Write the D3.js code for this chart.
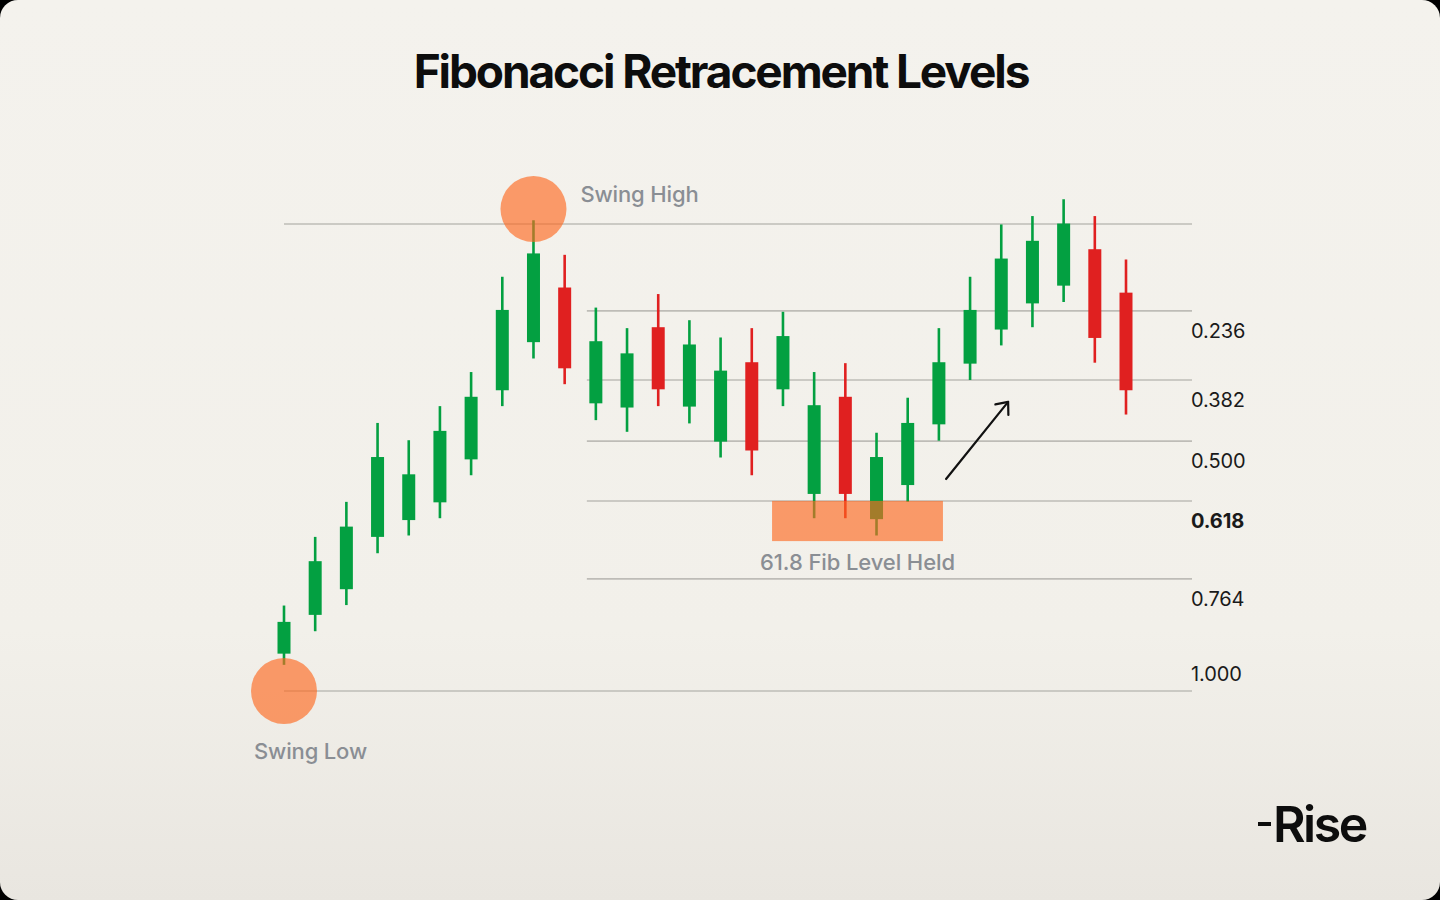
<!DOCTYPE html>
<html>
<head>
<meta charset="utf-8">
<script src="https://cdn.jsdelivr.net/npm/d3@7"></script>
<style>
  html, body { margin: 0; padding: 0; background: #000; }
  svg { display: block; }
</style>
</head>
<body>
<svg id="chart" width="1440" height="900"></svg>
<script>
// ---- Data (price units; swing low = 0, top line = 100) ----
const candleIndex = d3.range(1, 29);
const opens  = [8.0, 16.3, 21.8, 33.0, 36.6, 40.4, 49.6, 64.4, 74.7, 86.4, 61.6, 60.7, 77.9, 60.9, 53.4, 70.4, 64.6, 42.2, 63.0, 36.8, 44.1, 57.1, 70.1, 77.4, 83.0, 86.8, 94.6, 85.3];
const highs  = [18.3, 33.0, 40.5, 57.4, 53.7, 61.0, 68.3, 88.7, 100.8, 93.4, 82.1, 77.7, 85.0, 79.4, 75.7, 77.7, 81.2, 68.3, 70.2, 55.3, 62.8, 77.7, 88.7, 99.9, 101.7, 105.3, 101.7, 92.4];
const lows   = [5.6, 12.8, 18.4, 29.5, 33.3, 37.0, 46.2, 61.0, 71.2, 65.7, 58.0, 55.5, 61.0, 57.3, 50.0, 46.2, 61.0, 37.0, 37.0, 33.3, 40.5, 53.6, 66.6, 74.0, 77.9, 83.3, 70.3, 59.2];
const closes = [14.8, 27.8, 35.2, 50.1, 46.4, 55.7, 63.0, 81.6, 93.7, 69.1, 74.9, 72.3, 64.6, 74.2, 68.6, 51.5, 76.0, 61.2, 42.2, 50.1, 57.4, 70.4, 81.6, 92.6, 96.4, 100.1, 75.6, 64.4];

const fibLabels = ["0", "0.236", "0.382", "0.500", "0.618", "0.764", "1.000"];
const fibPrices = [100, 81.4, 66.6, 53.5, 40.7, 24.0, 0];
const fibStartCandle = [1, 11, 11, 11, 11, 11, 1];

const swingLabels = ["Swing High", "Swing Low"];
const swingCandles = [9, 1];
const swingPrices = [103.2, 0];

const zoneLabel = "61.8 Fib Level Held";
const zoneCandles = [16.65, 22.13];   // candle index span
const zonePrices = [40.7, 32.1];

const arrowFrom = [22.23, 45.4];  // [candle index, price]
const arrowTo   = [24.22, 61.9];

const title = "Fibonacci Retracement Levels";

// ---- Setup ----
const W = 1440, H = 900;
const svg = d3.select("#chart");
const x = d3.scaleLinear().domain([1, 28]).range([284, 1126]);
const y = d3.scaleLinear().domain([0, 100]).range([691, 224]);
const FONT = "Inter, 'Liberation Sans', sans-serif";

const defs = svg.append("defs");
const bgGrad = defs.append("linearGradient").attr("id", "bg").attr("x1", 0).attr("y1", 0).attr("x2", 0).attr("y2", 1);
bgGrad.append("stop").attr("offset", "0%").attr("stop-color", "#F4F2ED");
bgGrad.append("stop").attr("offset", "70%").attr("stop-color", "#F2F0EA");
bgGrad.append("stop").attr("offset", "100%").attr("stop-color", "#E9E6E0");

svg.append("rect").attr("x", 0).attr("y", 0).attr("width", W).attr("height", H)
  .attr("rx", 18).attr("ry", 18).attr("fill", "url(#bg)");

// Title
svg.append("text").attr("x", 721).attr("y", 88)
  .attr("text-anchor", "middle")
  .attr("font-family", FONT)
  .attr("font-weight", 700).attr("font-size", 46)
  .attr("letter-spacing", -2.1)
  .attr("fill", "#0d0d0d")
  .text(title);

// Fib lines
const fib = fibLabels.map((l, i) => ({label: l, price: fibPrices[i], start: fibStartCandle[i]}));
svg.append("g").selectAll("line").data(fib).join("line")
  .attr("x1", d => x(d.start) - (d.start === 1 ? 0 : 9))
  .attr("x2", 1192)
  .attr("y1", d => y(d.price)).attr("y2", d => y(d.price))
  .attr("stroke", "#BEBCB7").attr("stroke-width", 1.6);

// Fib labels (not the 0 line)
svg.append("g").selectAll("text").data(fib.filter(d => d.label !== "0")).join("text")
  .attr("x", 1191)
  .attr("y", d => d.label === "1.000" ? y(d.price) - 17 : y(d.price) + 20)
  .attr("dy", "0.35em")
  .attr("font-family", FONT)
  .attr("font-size", 20)
  .attr("letter-spacing", -0.1)
  .attr("font-weight", d => d.label === "0.618" ? 700 : 400)
  .attr("fill", "#1a1a1a")
  .text(d => d.label);

// Candles
const candles = candleIndex.map((i, k) => ({i, o: opens[k], h: highs[k], l: lows[k], c: closes[k]}));
const green = "#03A041", red = "#E02020";
const bodyW = 13;
const cg = svg.append("g").selectAll("g").data(candles).join("g");
cg.append("line")
  .attr("x1", d => x(d.i)).attr("x2", d => x(d.i))
  .attr("y1", d => y(d.h)).attr("y2", d => y(d.l))
  .attr("stroke", d => d.c >= d.o ? green : red).attr("stroke-width", 2.6);
cg.append("rect")
  .attr("x", d => x(d.i) - bodyW / 2).attr("width", bodyW)
  .attr("y", d => y(Math.max(d.o, d.c)))
  .attr("height", d => Math.abs(y(d.o) - y(d.c)))
  .attr("fill", d => d.c >= d.o ? green : red);

// Zone rect
svg.append("rect")
  .attr("x", x(zoneCandles[0])).attr("width", x(zoneCandles[1]) - x(zoneCandles[0]))
  .attr("y", y(zonePrices[0])).attr("height", y(zonePrices[1]) - y(zonePrices[0]))
  .attr("fill", "#FE681E").attr("fill-opacity", 0.64);
svg.append("text")
  .attr("x", (x(zoneCandles[0]) + x(zoneCandles[1])) / 2).attr("y", 570)
  .attr("text-anchor", "middle")
  .attr("font-family", FONT)
  .attr("font-size", 22).attr("font-weight", 500).attr("letter-spacing", -0.1)
  .attr("fill", "#8A8E94")
  .text(zoneLabel);

// Swing circles
const swings = swingLabels.map((l, k) => ({label: l, i: swingCandles[k], price: swingPrices[k]}));
svg.append("g").selectAll("circle").data(swings).join("circle")
  .attr("cx", d => x(d.i)).attr("cy", d => y(d.price)).attr("r", 33)
  .attr("fill", "#FE681E").attr("fill-opacity", 0.64);
svg.append("g").selectAll("text").data(swings).join("text")
  .attr("x", d => d.label === "Swing High" ? x(d.i) + 47 : x(d.i) - 30)
  .attr("y", d => d.label === "Swing High" ? y(d.price) - 7 : y(d.price) + 68)
  .attr("font-family", FONT)
  .attr("font-size", 22).attr("font-weight", 500).attr("letter-spacing", -0.15)
  .attr("fill", "#8A8E94")
  .text(d => d.label);

// Arrow
const ax1 = x(arrowFrom[0]), ay1 = y(arrowFrom[1]), ax2 = x(arrowTo[0]), ay2 = y(arrowTo[1]);
svg.append("line").attr("x1", ax1).attr("y1", ay1).attr("x2", ax2).attr("y2", ay2)
  .attr("stroke", "#111").attr("stroke-width", 2.2).attr("stroke-linecap", "round");
const ang = Math.atan2(ay2 - ay1, ax2 - ax1);
const hl = 13, spread = Math.PI / 4.5;
const headPath = d3.path();
headPath.moveTo(ax2 - hl * Math.cos(ang - spread), ay2 - hl * Math.sin(ang - spread));
headPath.lineTo(ax2, ay2);
headPath.lineTo(ax2 - hl * Math.cos(ang + spread), ay2 - hl * Math.sin(ang + spread));
svg.append("path").attr("d", headPath.toString())
  .attr("fill", "none").attr("stroke", "#111").attr("stroke-width", 2.2)
  .attr("stroke-linecap", "round").attr("stroke-linejoin", "round");

// Logo
const logo = svg.append("g");
logo.append("text").attr("x", 1273).attr("y", 842)
  .attr("font-family", FONT)
  .attr("font-weight", 600).attr("font-size", 50).attr("letter-spacing", -2.5)
  .attr("fill", "#0d0d0d").text("Rise");
logo.append("rect").attr("x", 1258).attr("y", 822).attr("width", 13).attr("height", 4).attr("fill", "#0d0d0d");
</script>
</body>
</html>
